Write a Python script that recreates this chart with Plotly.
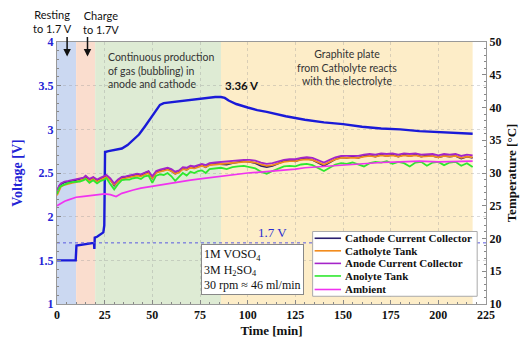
import plotly.graph_objects as go

# ---------------- data ----------------
V_TIME = [0, 9.8, 10.2, 15, 19.4, 19.6, 19.8, 21, 23, 24.3, 24.8, 25.2, 27, 30, 34, 37, 40, 43, 46, 49, 52,
          54, 56, 60, 65, 70, 75, 80, 83, 86, 88, 90, 94, 100, 105, 110, 120, 130, 140, 150, 160, 170,
          180, 190, 200, 210, 218]
VOLTAGE = [1.50, 1.50, 1.67, 1.69, 1.70, 1.63, 1.76, 1.77, 1.80, 1.82, 1.90, 2.74, 2.75, 2.76, 2.78, 2.82,
           2.88, 2.94, 3.03, 3.12, 3.22, 3.28, 3.30, 3.31, 3.33, 3.34, 3.35, 3.36, 3.37, 3.37, 3.36, 3.33,
           3.29, 3.25, 3.22, 3.20, 3.15, 3.11, 3.08, 3.06, 3.03, 3.01, 3.00, 2.98, 2.97, 2.96, 2.95]

T_TIME = [0, 1, 2, 4, 6, 8, 10, 12, 14, 15, 17, 19, 21, 23, 25, 26, 28, 30, 32, 34, 36, 38, 40, 42, 44, 46,
          48, 50, 52, 54, 56, 58, 60, 62, 64, 66, 68, 70, 72, 74, 76, 78, 80, 83, 86, 89, 92, 95, 98, 101,
          104, 107, 110, 113, 116, 119, 122, 125, 128, 131, 134, 137, 140, 143, 146, 149, 152, 155, 158,
          161, 164, 167, 170, 173, 176, 179, 182, 185, 188, 191, 194, 197, 200, 203, 206, 209, 212, 215, 218]

CATHODE_CC = [27.0, 27.9, 28.3, 28.6, 28.7, 28.8, 28.9, 29.0, 29.2, 29.5, 28.9, 29.3, 28.8, 29.2, 29.4, 29.6,
              29.0, 28.1, 28.8, 29.3, 29.4, 29.4, 29.6, 29.8, 29.6, 30.0, 30.2, 29.2, 30.1, 30.4, 30.4, 30.7,
              30.3, 29.9, 30.2, 30.7, 30.5, 30.9, 30.8, 31.0, 31.2, 30.9, 31.3, 31.4, 31.4, 31.3, 31.5, 31.6,
              31.8, 31.7, 31.5, 31.1, 30.9, 31.1, 31.5, 31.8, 31.9, 31.8, 32.1, 32.2, 32.0, 31.5, 31.1, 31.6,
              32.1, 32.4, 32.3, 32.5, 32.3, 32.6, 32.7, 32.5, 32.8, 32.6, 32.8, 32.5, 32.8, 32.6, 32.8, 32.5,
              32.7, 32.6, 32.4, 32.6, 32.5, 32.6, 32.2, 32.5, 32.3]
CATHOLYTE_TANK = [26.6, 27.4, 27.9, 28.2, 28.4, 28.5, 28.6, 28.8, 29.0, 29.2, 28.8, 29.1, 28.7, 29.0, 29.2,
                  29.4, 28.9, 28.2, 28.7, 29.1, 29.2, 29.3, 29.4, 29.6, 29.5, 29.8, 30.0, 29.2, 30.0, 30.2,
                  30.3, 30.5, 30.3, 29.9, 30.1, 30.6, 30.5, 30.8, 30.7, 30.9, 31.1, 30.9, 31.2, 31.3, 31.4,
                  31.5, 31.5, 31.6, 31.7, 31.7, 31.6, 31.3, 31.1, 31.2, 31.5, 31.7, 31.8, 31.8, 32.0, 32.1,
                  32.0, 31.7, 31.3, 31.7, 32.1, 32.3, 32.3, 32.4, 32.3, 32.5, 32.6, 32.5, 32.7, 32.6, 32.7,
                  32.5, 32.7, 32.6, 32.7, 32.5, 32.6, 32.6, 32.4, 32.6, 32.5, 32.6, 32.3, 32.5, 32.4]
ANODE_CC = [27.2, 28.0, 28.4, 28.7, 28.8, 28.9, 29.0, 29.1, 29.3, 29.6, 29.1, 29.4, 29.0, 29.3, 29.5, 29.7,
            29.2, 28.4, 29.0, 29.4, 29.5, 29.6, 29.7, 29.9, 29.8, 30.1, 30.3, 29.5, 30.3, 30.5, 30.6, 30.8,
            30.6, 30.2, 30.4, 30.9, 30.8, 31.1, 31.0, 31.2, 31.4, 31.2, 31.5, 31.6, 31.7, 31.8, 31.8, 31.9,
            32.0, 32.0, 31.9, 31.6, 31.4, 31.5, 31.8, 32.0, 32.1, 32.1, 32.3, 32.4, 32.3, 32.0, 31.6, 32.0,
            32.4, 32.6, 32.6, 32.7, 32.6, 32.8, 32.9, 32.8, 33.0, 32.9, 33.0, 32.8, 33.0, 32.9, 33.0, 32.8,
            32.9, 32.9, 32.7, 32.9, 32.8, 32.9, 32.6, 32.8, 32.7]
ANOLYTE_TANK = [26.8, 27.6, 28.0, 28.3, 28.5, 28.6, 28.6, 28.7, 28.9, 29.1, 28.5, 28.9, 28.4, 28.8, 29.0,
                29.2, 28.3, 27.5, 28.3, 28.9, 29.0, 29.0, 29.2, 29.3, 29.1, 29.5, 29.6, 28.5, 29.6, 29.8,
                29.7, 30.0, 29.5, 28.8, 29.4, 30.0, 29.6, 30.2, 30.0, 30.3, 30.4, 30.0, 30.6, 30.7, 30.8,
                30.6, 30.9, 31.0, 31.1, 30.9, 30.7, 30.2, 29.9, 30.3, 30.7, 31.0, 31.1, 31.0, 31.3, 31.4,
                31.2, 30.7, 30.3, 30.8, 31.3, 31.5, 31.4, 31.6, 31.3, 31.0, 31.5, 31.7, 31.6, 31.8, 31.4,
                31.7, 31.5, 31.0, 31.6, 31.7, 31.1, 31.6, 31.7, 31.2, 31.6, 31.7, 31.1, 31.5, 30.9]

AMB_TIME = [0, 2, 4, 6, 8, 10, 13, 16, 19, 22, 25, 28, 31, 34, 37, 40, 44, 48, 52, 56, 60, 65, 70, 75, 80,
            85, 90, 95, 100, 105, 110, 115, 120, 125, 130, 135, 140, 145, 150, 155, 160, 170, 180, 190,
            200, 210, 218]
AMBIENT = [25.0, 25.4, 25.7, 25.9, 26.1, 26.3, 26.4, 26.5, 26.6, 26.7, 26.8, 26.7, 26.4, 26.9, 27.2, 27.4,
           27.7, 27.9, 28.1, 28.3, 28.5, 28.7, 28.9, 29.1, 29.3, 29.5, 29.6, 29.8, 30.0, 30.1, 30.2, 30.3,
           30.5, 30.6, 30.8, 30.9, 31.0, 31.2, 31.3, 31.4, 31.5, 31.6, 31.7, 31.8, 31.7, 31.8, 31.8]

SERIES_NAMES = ["Cathode Current Collector", "Catholyte Tank", "Anode Current Collector",
                "Anolyte Tank", "Ambient"]
PHASE_BOUNDS = [0, 10, 20, 86, 218]   # resting | charge | bubbling | graphite reaction
REF_VOLTAGE = 1.7
PEAK_LABEL = "3.36 V"

X_TICKS = [0, 25, 50, 75, 100, 125, 150, 175, 200, 225]
V_TICKS = [1, 1.5, 2, 2.5, 3, 3.5, 4]
T_TICKS = [10, 15, 20, 25, 30, 35, 40, 45, 50]

# ---------------- styling ----------------
SERIF = "Liberation Serif"
SANS = "Lato"
PHASE_COLORS = ["rgba(200,214,240,0.95)", "rgba(250,219,203,0.95)",
                "rgba(220,234,210,0.95)", "rgba(253,236,197,0.95)"]
T_COLORS = ["#2a1f6e", "#f28c1e", "#a524c9", "#2ee82e", "#f032f0"]
V_COLOR = "#1a1ad8"
BOLD = "bold"

fig = go.Figure()

for name, data, col in zip(SERIES_NAMES[:4],
                           [CATHODE_CC, CATHOLYTE_TANK, ANODE_CC, ANOLYTE_TANK], T_COLORS[:4]):
    fig.add_trace(go.Scatter(x=T_TIME, y=data, name=name, mode="lines", yaxis="y2",
                             line=dict(color=col, width=1.8), showlegend=False))
fig.add_trace(go.Scatter(x=AMB_TIME, y=AMBIENT, name=SERIES_NAMES[4], mode="lines", yaxis="y2",
                         line=dict(color=T_COLORS[4], width=1.7), showlegend=False))

fig.add_trace(go.Scatter(x=V_TIME, y=VOLTAGE, name="Voltage", mode="lines", yaxis="y",
                         line=dict(color=V_COLOR, width=2.4), showlegend=False))

# reference 1.7 V line
fig.add_trace(go.Scatter(x=[0, 225], y=[REF_VOLTAGE, REF_VOLTAGE], mode="lines", yaxis="y",
                         line=dict(color="#5a5ae0", width=1, dash="dot"), showlegend=False,
                         hoverinfo="skip"))

shapes = []
for i, col in enumerate(PHASE_COLORS):
    shapes.append(dict(type="rect", xref="x", yref="paper", x0=PHASE_BOUNDS[i], x1=PHASE_BOUNDS[i + 1],
                       y0=0, y1=1, fillcolor=col, line=dict(width=0), layer="below"))

annotations = [
    dict(text="Resting<br>to 1.7 V", xref="paper", yref="paper", x=-0.01, y=1.078, showarrow=False,
         font=dict(family=SANS, size=11, color="#111"), align="center", xanchor="center", yanchor="middle"),
    dict(text="Charge<br>to 1.7V", xref="paper", yref="paper", x=0.103, y=1.075, showarrow=False,
         font=dict(family=SANS, size=11, color="#111"), align="center", xanchor="center", yanchor="middle"),
    dict(text="", x=5.3, y=0.945, xref="x", yref="paper", showarrow=True, arrowhead=2, arrowsize=1,
         arrowwidth=1.5, arrowcolor="#111", ax=0, ay=-21),
    dict(text="", x=16, y=0.945, xref="x", yref="paper", showarrow=True, arrowhead=2, arrowsize=1,
         arrowwidth=1.5, arrowcolor="#111", ax=0, ay=-21),
    dict(text="Continuous production<br>of gas (bubbling) in<br>anode and cathode", x=25.5, y=0.972,
         xref="x", yref="paper", showarrow=False, xanchor="left", yanchor="top", align="left",
         font=dict(family=SANS, size=10.5, color="#333")),
    dict(text="Graphite plate<br>from Catholyte reacts<br>with the electrolyte", x=152, y=0.985,
         xref="x", yref="paper", showarrow=False, xanchor="center", yanchor="top", align="center",
         font=dict(family=SANS, size=10.5, color="#333")),
    dict(text="<b>" + PEAK_LABEL + "</b>", x=97, y=3.5, xref="x", yref="y", showarrow=False,
         font=dict(family=SANS, size=11.5, color="#111")),
    dict(text=f"{REF_VOLTAGE} V", x=113, y=REF_VOLTAGE + 0.12, xref="x", yref="y", showarrow=False,
         yanchor="middle", font=dict(family=SERIF, size=13, color="#2b2bd0")),
    dict(text="1M VOSO<sub>4</sub><br>3M H<sub>2</sub>SO<sub>4</sub><br>30 rpm ≈ 46 ml/min",
         x=75.5, y=1.1, xref="x", yref="y", showarrow=False, xanchor="left", yanchor="bottom",
         align="left", bgcolor="white", bordercolor="#888", borderwidth=1, borderpad=2,
         font=dict(family=SERIF, size=12, color="#111")),
]

# ---- legend (drawn box, samples, labels) in paper coordinates ----
def px_x(p):
    return (p - 57) / 438.0


def px_y(p):
    return (313 - p) / 271.0


shapes.append(dict(type="rect", xref="paper", yref="paper", x0=px_x(318), x1=px_x(486),
                   y0=px_y(305), y1=px_y(238), fillcolor="white", line=dict(color="#aaa", width=1),
                   layer="above"))
LEG_ROWS = [245, 258, 271, 284, 298]
for name, col, row in zip(SERIES_NAMES, T_COLORS, LEG_ROWS):
    shapes.append(dict(type="line", xref="paper", yref="paper", x0=px_x(320), x1=px_x(347),
                       y0=px_y(row), y1=px_y(row), line=dict(color=col, width=1.6), layer="above"))
    annotations.append(dict(text="<b>" + name + "</b>", xref="paper", yref="paper", x=px_x(349),
                            y=px_y(row), xanchor="left", yanchor="middle", showarrow=False,
                            font=dict(family=SERIF, size=11, color="#111")))

axis_common = dict(showline=True, linecolor="#999", linewidth=1, mirror=True, ticks="inside",
                   ticklen=4, tickcolor="#888", zeroline=False)

fig.update_layout(
    width=529, height=348,
    margin=dict(l=57, r=34, t=42, b=35),
    paper_bgcolor="white", plot_bgcolor="white",
    shapes=shapes, annotations=annotations,
    xaxis=dict(range=[0, 225], tickvals=X_TICKS, showgrid=True, gridcolor="rgba(150,150,150,0.35)",
               griddash="dot", gridwidth=1,
               minor=dict(dtick=5, ticks="inside", ticklen=2, tickcolor="#888"),
               tickfont=dict(family=SERIF, size=12, color="#111", weight=BOLD),
               title=dict(text="<b>Time [min]</b>", font=dict(family=SERIF, size=13, color="#111"),
                          standoff=4),
               **axis_common),
    yaxis=dict(range=[1, 4], tickvals=V_TICKS, ticktext=[f"{v:g}" for v in V_TICKS],
               showgrid=True, gridcolor="rgba(150,150,150,0.35)", griddash="dot",
               minor=dict(dtick=0.1, ticks="inside", ticklen=2, tickcolor="#888"),
               tickfont=dict(family=SERIF, size=12, color="#2323d6", weight=BOLD),
               title=dict(text="<b>Voltage [V]</b>", font=dict(family=SERIF, size=14, color="#2323d6"),
                          standoff=12),
               **axis_common),
    yaxis2=dict(range=[10, 50], tickvals=T_TICKS, overlaying="y", side="right", showgrid=False,
                minor=dict(dtick=1, ticks="inside", ticklen=2, tickcolor="#888"),
                tickfont=dict(family=SERIF, size=12, color="#111", weight=BOLD),
                title=dict(text="<b>Temperature [°C]</b>", font=dict(family=SERIF, size=13, color="#111"),
                           standoff=6),
                showline=True, linecolor="#999", ticks="inside", ticklen=4, tickcolor="#888",
                zeroline=False),
    showlegend=False,
)

fig.write_html("out.html")
